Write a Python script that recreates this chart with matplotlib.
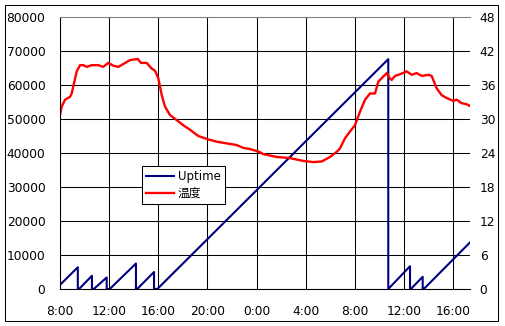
import matplotlib
matplotlib.use("Agg")
import matplotlib.pyplot as plt
from matplotlib.patches import Rectangle

# ---- data (hours since 8:00 on day 1) ----
tick_hours = [0, 4, 8, 12, 16, 20, 24, 28, 32]
tick_labels = ["8:00", "12:00", "16:00", "20:00", "0:00", "4:00", "8:00", "12:00", "16:00"]

uptime_hours = [0, 1.45, 1.45, 1.55, 2.6, 2.6, 2.75, 3.8, 3.8, 4.05, 6.18, 6.18,
                6.28, 7.65, 7.65, 7.92, 26.71, 26.71, 28.48, 28.48, 28.55, 29.51,
                29.51, 29.6, 33.36]
uptime_vals = [1200, 6400, 0, 0, 3900, 0, 0, 3400, 0, 0, 7500, 0,
               0, 5000, 0, 0, 67600, 0, 6700, 0, 0, 3600,
               0, 0, 13700]

temp_hours = [0, 0.14, 0.41, 0.81, 0.95, 1.14, 1.36, 1.63, 1.90, 2.17, 2.58, 3.12,
              3.52, 3.93, 4.34, 4.74, 5.15, 5.70, 6.32, 6.59, 7.05, 7.46, 7.73,
              8.00, 8.28, 8.54, 8.95, 9.50, 10.03, 10.58, 11.25, 12.07, 12.75,
              13.56, 14.38, 14.91, 15.46, 16.22, 16.54, 17.63, 18.71, 19.80,
              20.61, 21.29, 21.97, 22.51, 22.78, 23.19, 23.60, 24.00, 24.41,
              24.82, 25.22, 25.63, 25.90, 26.31, 26.58, 26.85, 26.99, 27.26,
              27.66, 28.21, 28.62, 29.02, 29.43, 29.97, 30.24, 30.65, 31.06,
              31.46, 32.00, 32.28, 32.68, 33.09, 33.44]
temp_vals = [30.7, 32.2, 33.4, 33.9, 34.5, 36.3, 38.4, 39.5, 39.5, 39.2, 39.5, 39.5,
             39.2, 39.9, 39.4, 39.2, 39.7, 40.4, 40.6, 39.9, 39.9, 38.9, 38.5,
             37.2, 34.2, 32.2, 30.7, 29.8, 28.9, 28.1, 27.0, 26.4, 26.0,
             25.7, 25.4, 24.9, 24.7, 24.2, 23.8, 23.3, 23.1, 22.6,
             22.4, 22.5, 23.3, 24.2, 24.8, 26.6, 27.8, 28.9, 31.3,
             33.4, 34.5, 34.5, 36.6, 37.5, 38.1, 37.1, 36.9, 37.6,
             37.9, 38.4, 37.8, 38.1, 37.6, 37.8, 37.6, 35.4, 34.2,
             33.7, 33.2, 33.4, 32.8, 32.6, 32.2]

left_ticks = [0, 10000, 20000, 30000, 40000, 50000, 60000, 70000, 80000]
right_ticks = [0, 6, 12, 18, 24, 30, 36, 42, 48]

# ---- figure ----
W, H = 505, 326
fig = plt.figure(figsize=(W / 100, H / 100), dpi=100)
fig.patch.set_facecolor("white")
ax = fig.add_axes([60 / W, 1 - 289 / H, 410 / W, 272 / H])
ax2 = ax.twinx()

fs = 8.8
fam = ["DejaVu Sans", "Noto Sans CJK JP"]

l1, = ax.plot(uptime_hours, uptime_vals, color="#000080", lw=1.5, label="Uptime")
l2, = ax2.plot(temp_hours, temp_vals, color="#ff0000", lw=1.7, label="温度")

ax.set_xlim(0, 33.36)
ax.set_ylim(0, 80000)
ax2.set_ylim(0, 48)
ax.set_xticks(tick_hours)
ax.set_xticklabels(tick_labels)
ax.set_yticks(left_ticks)
ax.set_yticklabels([str(v) for v in left_ticks])
ax2.set_yticks(right_ticks)
ax2.set_yticklabels([str(v) for v in right_ticks])

ax.grid(True, color="black", lw=0.75)
ax.set_axisbelow(True)
ax.yaxis.get_gridlines()[-1].set_visible(False)

ax.tick_params(axis="y", length=0, pad=10.5, labelsize=fs)
ax.tick_params(axis="x", length=0, pad=11.5, labelsize=fs)
ax2.tick_params(axis="y", length=0, pad=7, labelsize=fs)
for lab in ax.get_xticklabels() + ax.get_yticklabels() + ax2.get_yticklabels():
    lab.set_family(fam)

for a in (ax, ax2):
    a.spines["right"].set_visible(False)
    a.spines["top"].set_color("#808080")
    a.spines["top"].set_linewidth(0.75)
    a.spines["left"].set_linewidth(0.75)
    a.spines["bottom"].set_linewidth(0.75)

leg = ax2.legend(handles=[l1, l2], loc="lower left", bbox_to_anchor=(0.199, 0.3125),
                 borderaxespad=0, fancybox=False, framealpha=1, edgecolor="black",
                 prop={"family": fam, "size": 8.5}, handlelength=2.4,
                 handletextpad=0.3, labelspacing=0.35, borderpad=0.35)
leg.get_frame().set_linewidth(0.75)

fig.patches.append(Rectangle((5 / W, 1 - 321 / H), 493 / W, 316 / H,
                             transform=fig.transFigure, fill=False,
                             edgecolor="black", lw=0.75))

fig.savefig("out.png", dpi=100)
